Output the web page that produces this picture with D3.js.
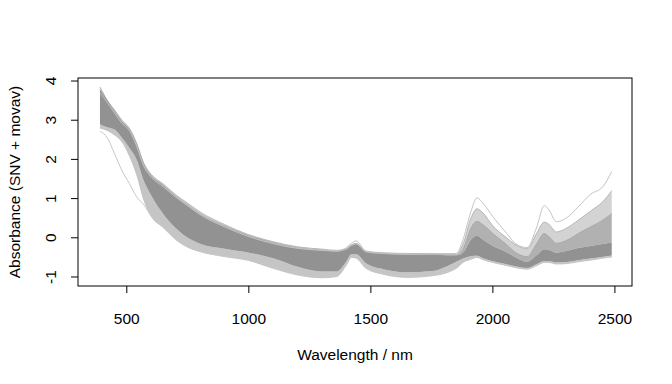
<!DOCTYPE html>
<html><head><meta charset="utf-8">
<script src="https://cdn.jsdelivr.net/npm/d3@7"></script>
<style>body{margin:0;background:#fff}svg{display:block}text{font-family:"Liberation Sans",Arial,sans-serif;fill:#000}</style>
</head><body><svg id="c" width="672" height="384"></svg>
<script>
const wavelengths = [390,420,450,480,510,540,570,600,650,700,750,800,900,1000,1100,1200,1300,1360,1400,1420,1440,1480,1550,1650,1750,1850,1880,1910,1935,1960,2000,2050,2100,2140,2180,2210,2230,2260,2300,2350,2400,2450,2487];
// upper edge of the typical spectra
const bandTop = [3.85,3.51,3.26,3.00,2.80,2.42,1.90,1.62,1.37,1.10,0.88,0.66,0.34,0.08,-0.10,-0.23,-0.29,-0.32,-0.27,-0.18,-0.14,-0.34,-0.38,-0.40,-0.40,-0.42,-0.12,0.50,0.74,0.63,0.30,0.03,-0.20,-0.28,0.12,0.40,0.34,0.15,0.24,0.45,0.68,0.92,1.20];
// middle of the upper fan (SWIR)
const fanMid = [3.78,3.50,3.22,2.96,2.77,2.38,1.86,1.58,1.33,1.06,0.83,0.61,0.30,0.05,-0.13,-0.26,-0.32,-0.35,-0.30,-0.21,-0.17,-0.37,-0.41,-0.43,-0.43,-0.45,-0.25,0.25,0.42,0.33,0.11,-0.14,-0.40,-0.48,-0.14,0.11,0.03,-0.14,-0.07,0.11,0.28,0.45,0.62];
// upper edge of the dense core
const coreTop = [3.78,3.50,3.22,2.96,2.77,2.38,1.86,1.58,1.33,1.06,0.83,0.61,0.30,0.05,-0.13,-0.26,-0.32,-0.35,-0.30,-0.21,-0.17,-0.37,-0.41,-0.43,-0.43,-0.45,-0.36,-0.05,0.05,-0.05,-0.21,-0.35,-0.52,-0.61,-0.44,-0.29,-0.31,-0.38,-0.34,-0.26,-0.21,-0.16,-0.12];
// lower edge of the dense core
const coreBot = [2.90,2.82,2.76,2.55,2.30,2.00,1.45,1.08,0.60,0.25,0.00,-0.15,-0.28,-0.38,-0.52,-0.74,-0.86,-0.86,-0.60,-0.42,-0.42,-0.65,-0.80,-0.88,-0.85,-0.61,-0.52,-0.47,-0.46,-0.52,-0.60,-0.67,-0.74,-0.78,-0.67,-0.60,-0.60,-0.63,-0.62,-0.57,-0.53,-0.49,-0.45];
// lower edge of the typical spectra
const bandBot = [2.80,2.74,2.62,2.45,2.10,1.62,0.96,0.55,0.26,-0.04,-0.24,-0.35,-0.48,-0.58,-0.78,-0.95,-1.02,-0.99,-0.69,-0.50,-0.52,-0.78,-0.93,-1.01,-0.97,-0.78,-0.62,-0.55,-0.50,-0.56,-0.63,-0.70,-0.77,-0.80,-0.71,-0.63,-0.63,-0.67,-0.66,-0.61,-0.57,-0.52,-0.49];
// single outlying spectra
const outlierHigh = [3.70,3.45,3.18,2.92,2.74,2.34,1.82,1.55,1.30,1.04,0.81,0.59,0.28,0.03,-0.15,-0.27,-0.32,-0.34,-0.25,-0.14,-0.08,-0.34,-0.40,-0.42,-0.41,-0.40,0.00,0.67,1.02,0.88,0.54,0.16,-0.18,-0.25,0.28,0.82,0.71,0.41,0.50,0.79,1.11,1.30,1.69];
const outlierLow = [2.72,2.55,2.14,1.72,1.39,1.05,0.84,0.55,0.26,-0.04,-0.24,-0.35,-0.47,-0.56,-0.75,-0.92,-0.99,-0.96,-0.67,-0.48,-0.50,-0.75,-0.90,-0.98,-0.94,-0.76,-0.60,-0.53,-0.48,-0.54,-0.61,-0.68,-0.75,-0.78,-0.69,-0.61,-0.61,-0.65,-0.64,-0.59,-0.55,-0.50,-0.47];
const xTicks = [500,1000,1500,2000,2500];
const yTicks = [-1,0,1,2,3,4];

const svg = d3.select("#c");
const L = 78, R = 632, T = 78, B = 286;
const x = d3.scaleLinear().domain([300, 2570]).range([L, R]);
const y = d3.scaleLinear().domain([-1.23, 4.077]).range([B, T]);
const idx = wavelengths.map((w, i) => i);
const curve = d3.curveMonotoneX;

function band(lo, hi, fill, op) {
  svg.append("path").datum(idx)
    .attr("d", d3.area().curve(curve).x(i => x(wavelengths[i])).y0(i => y(lo[i])).y1(i => y(hi[i])))
    .attr("fill", fill).attr("fill-opacity", op).attr("stroke", "none");
}
function line(arr, col, w) {
  svg.append("path").datum(idx)
    .attr("d", d3.line().curve(curve).x(i => x(wavelengths[i])).y(i => y(arr[i])))
    .attr("fill", "none").attr("stroke", col).attr("stroke-width", w);
}

band(bandBot, coreBot, "#8c8c8c", 0.5);
band(fanMid, bandTop, "#8c8c8c", 0.38);
band(coreTop, fanMid, "#8c8c8c", 0.68);
band(coreBot, coreTop, "#929292", 1);
line(bandTop, "#a8a8a8", 0.8);
line(bandBot, "#bdbdbd", 0.8);
line(fanMid, "#999", 0.6);
line(outlierHigh, "#c4c4c4", 1);
line(outlierLow, "#c8c8c8", 1);

// frame
svg.append("rect").attr("x", L).attr("y", T).attr("width", R - L).attr("height", B - T)
  .attr("fill", "none").attr("stroke", "#000").attr("stroke-width", 1);

const fs = 15.5;
// x axis
const gx = svg.append("g");
xTicks.forEach(t => {
  gx.append("line").attr("x1", x(t)).attr("x2", x(t)).attr("y1", B).attr("y2", B + 7).attr("stroke", "#000");
  gx.append("text").attr("x", x(t)).attr("y", 324).attr("text-anchor", "middle").attr("font-size", fs).text(t);
});
// y axis
const gy = svg.append("g");
yTicks.forEach(t => {
  gy.append("line").attr("x1", L - 7).attr("x2", L).attr("y1", y(t)).attr("y2", y(t)).attr("stroke", "#000");
  gy.append("text").attr("transform", `translate(56,${y(t)}) rotate(-90)`).attr("text-anchor", "middle").attr("font-size", fs).text(t);
});
svg.append("text").attr("x", (L + R) / 2).attr("y", 360).attr("text-anchor", "middle").attr("font-size", fs).text("Wavelength / nm");
svg.append("text").attr("transform", `translate(20,${(T + B) / 2}) rotate(-90)`).attr("text-anchor", "middle").attr("font-size", fs).text("Absorbance (SNV + movav)");
</script></body></html>
